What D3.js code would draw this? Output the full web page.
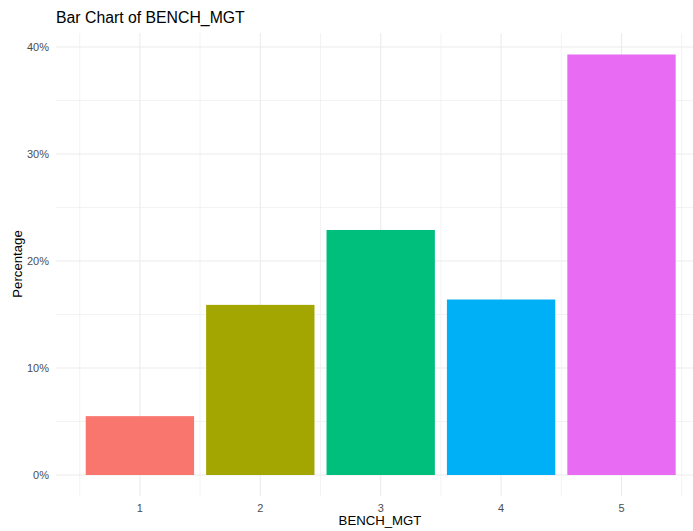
<!DOCTYPE html>
<html>
<head>
<meta charset="utf-8">
<script src="https://cdn.jsdelivr.net/npm/d3@7"></script>
<style>
body{margin:0;background:#fff;}
svg{display:block;font-family:"Liberation Sans",Arial,sans-serif;}
</style>
</head>
<body>
<svg id="chart" width="693" height="531"></svg>
<script>
const categories = ["1","2","3","4","5"];
const values = [0.055, 0.159, 0.229, 0.164, 0.393];
const colors = ["#F8766D","#A3A500","#00BF7D","#00B0F6","#E76BF3"];
const yTicks = [0, 0.1, 0.2, 0.3, 0.4];
const yMinor = [0.05, 0.15, 0.25, 0.35];

const svg = d3.select("#chart");
const panel = {left:56, right:693, top:33, bottom:496};

const x = d3.scaleBand().domain(categories).range([79.7, 681.7]).paddingInner(0.1).paddingOuter(0.05);
const y = d3.scaleLinear().domain([0, 0.4]).range([475, 47]);

// minor gridlines
const g = svg.append("g");
g.selectAll(".hmin").data(yMinor).join("line")
  .attr("x1", panel.left).attr("x2", panel.right)
  .attr("y1", d=>y(d)).attr("y2", d=>y(d))
  .attr("stroke", "#ebebeb").attr("stroke-width", 0.6);
const vMinor = categories.map(c => x(c) - x.step()*x.paddingInner()/2).concat([x(categories[categories.length-1]) + x.bandwidth() + x.step()*x.paddingInner()/2]);
g.selectAll(".vmin").data(vMinor).join("line")
  .attr("x1", d=>d).attr("x2", d=>d)
  .attr("y1", panel.top).attr("y2", panel.bottom)
  .attr("stroke", "#ebebeb").attr("stroke-width", 0.6);
// major gridlines
g.selectAll(".hmaj").data(yTicks).join("line")
  .attr("x1", panel.left).attr("x2", panel.right)
  .attr("y1", d=>y(d)).attr("y2", d=>y(d))
  .attr("stroke", "#ebebeb").attr("stroke-width", 1.1);
g.selectAll(".vmaj").data(categories).join("line")
  .attr("x1", d=>x(d)+x.bandwidth()/2).attr("x2", d=>x(d)+x.bandwidth()/2)
  .attr("y1", panel.top).attr("y2", panel.bottom)
  .attr("stroke", "#ebebeb").attr("stroke-width", 1.1);

// bars
svg.append("g").selectAll("rect").data(categories).join("rect")
  .attr("x", d=>x(d)).attr("width", x.bandwidth())
  .attr("y", (d,i)=>y(values[i])).attr("height", (d,i)=>y(0)-y(values[i]))
  .attr("fill", (d,i)=>colors[i]);

// axes labels
const yAxis = d3.axisLeft(y).tickValues(yTicks).tickFormat(d3.format(".0%")).tickSize(0).tickPadding(7);
const ya = svg.append("g").attr("transform", `translate(${panel.left},0)`).call(yAxis);
ya.select(".domain").remove();
ya.selectAll("text").attr("fill","#4d4d4d").style("font-size","11px").style("font-family","'Liberation Sans',Arial,sans-serif");

const xAxis = d3.axisBottom(x).tickSize(0).tickPadding(8);
const xa = svg.append("g").attr("transform", `translate(0,${panel.bottom})`).call(xAxis);
xa.select(".domain").remove();
xa.selectAll("text").attr("fill","#4d4d4d").style("font-size","11px").style("font-family","'Liberation Sans',Arial,sans-serif");

// titles
svg.append("text").attr("x", 56).attr("y", 23).text("Bar Chart of BENCH_MGT")
  .attr("fill","#000").style("font-size","15.8px");
svg.append("text").attr("x", 380).attr("y", 525).attr("text-anchor","middle")
  .text("BENCH_MGT").attr("fill","#000").style("font-size","13.2px");
svg.append("text").attr("transform", "translate(22,264) rotate(-90)").attr("text-anchor","middle")
  .text("Percentage").attr("fill","#000").style("font-size","13.2px");
</script>
</body>
</html>
